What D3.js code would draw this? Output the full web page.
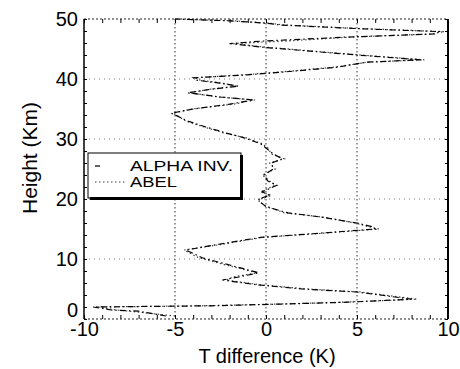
<!DOCTYPE html>
<html>
<head>
<meta charset="utf-8">
<script src="https://cdn.jsdelivr.net/npm/d3@7"></script>
<style>
  body { margin: 0; background: #fff; }
  svg { display: block; }
  text { font-family: "Liberation Sans", Arial, sans-serif; fill: #000; }
</style>
</head>
<body>
<div id="chart"></div>
<script>
// heights (km) shared by both profiles
const heightKm = [
  0.5, 1.3, 1.5, 2.0, 2.2, 2.5, 2.8, 3.3, 4.5, 5.0,
  5.7, 6.5, 7.0, 7.7, 9.0, 10.2, 11.5, 12.5, 13.6, 14.2,
  15.0, 15.4, 16.0, 17.0, 17.7, 18.7, 19.5, 20.0, 20.6, 21.2,
  22.3, 23.0, 24.0, 25.0, 26.0, 26.7, 27.5, 28.5, 29.2, 30.2,
  31.0, 32.0, 33.0, 34.3, 35.0, 35.8, 36.5, 37.0, 37.7, 38.3,
  38.8, 39.3, 39.8, 40.2, 40.7, 41.3, 42.0, 42.8, 43.2, 44.0,
  45.3, 45.9, 46.3, 47.0, 47.5, 47.9, 48.4, 49.0, 49.3, 49.7,
  50.0
];
const alphaInv = [
  -5.5, -7.0, -8.5, -9.5, -3.0, 1.0, 4.5, 8.0, 5.0, 2.0,
  -0.5, -2.4, -1.5, -0.4, -2.0, -3.5, -4.4, -2.5, -0.3, 2.5,
  6.0, 5.8, 5.0, 3.0, 1.2, 0.0, -0.3, -0.4, 0.2, -0.2,
  0.6, 0.1, -0.1, 0.4, 0.3, 0.9, 0.4, 0.0, -0.3, -1.2,
  -2.2, -3.3, -4.3, -5.2, -4.0, -2.0, -0.7, -2.5, -4.3, -3.0,
  -1.5, -2.5, -3.8, -4.0, -1.0, 1.5, 4.0, 5.5, 8.5, 5.0,
  -0.2, -2.0, -0.3, 4.5, 9.3, 9.5, 5.0, 0.8, 0.0, -2.0,
  -5.0
];
const abel = [
  -5.0, -7.5, -8.2, -9.3, -3.5, 0.8, 4.2, 8.3, 5.2, 2.3,
  -0.3, -2.2, -1.8, -0.5, -2.2, -3.7, -4.5, -2.3, -0.2, 2.7,
  6.2, 5.6, 4.9, 3.1, 1.0, 0.1, -0.4, -0.3, 0.3, -0.3,
  0.5, 0.2, -0.2, 0.5, 0.2, 1.0, 0.3, 0.1, -0.2, -1.1,
  -2.3, -3.4, -4.4, -5.1, -4.1, -1.8, -0.6, -2.6, -4.2, -3.1,
  -1.6, -2.4, -3.6, -3.9, -1.2, 1.3, 3.8, 5.6, 8.7, 5.2,
  0.0, -1.8, 0.9, 4.8, 9.0, 9.8, 5.2, 1.0, 0.2, -1.8,
  -5.0
];
const xTicks = [-10, -5, 0, 5, 10];
const yTicks = [0, 10, 20, 30, 40, 50];
const xGrid = [-5, 0, 5];
const yGrid = [10, 20, 30, 40];
const legendNames = ["ALPHA INV.", "ABEL"];

const width = 460, height = 369;
const plotLeft = 84, plotRight = 448, plotTop = 19, plotBottom = 319;

const svg = d3.select("#chart").append("svg")
  .attr("width", width)
  .attr("height", height);

const x = d3.scaleLinear().domain([-10, 10]).range([plotLeft, plotRight]);
const y = d3.scaleLinear().domain([0, 50]).range([plotBottom, plotTop]);

// grid
svg.append("g").selectAll("line")
  .data(xGrid).enter().append("line")
  .attr("x1", d => x(d)).attr("x2", d => x(d))
  .attr("y1", plotTop).attr("y2", plotBottom)
  .attr("stroke", "#333").attr("stroke-width", 1)
  .attr("stroke-dasharray", "1.5,2.5");

svg.append("g").selectAll("line")
  .data(yGrid).enter().append("line")
  .attr("x1", plotLeft).attr("x2", plotRight)
  .attr("y1", d => y(d)).attr("y2", d => y(d))
  .attr("stroke", "#777").attr("stroke-width", 1)
  .attr("stroke-dasharray", "1,4");

// minor ticks (inward)
const xMinor = d3.range(-10, 11, 1);
const yMinor = d3.range(0, 51, 2);
svg.append("g")
  .attr("transform", `translate(0,${plotBottom})`)
  .call(d3.axisBottom(x).tickValues(xMinor).tickSize(-4).tickFormat(""))
  .call(g => g.select(".domain").remove());
svg.append("g")
  .attr("transform", `translate(0,${plotTop})`)
  .call(d3.axisTop(x).tickValues(xMinor).tickSize(-4).tickFormat(""))
  .call(g => g.select(".domain").remove());
svg.append("g")
  .attr("transform", `translate(${plotLeft},0)`)
  .call(d3.axisLeft(y).tickValues(yMinor).tickSize(-3).tickFormat(""))
  .call(g => g.select(".domain").remove());
svg.append("g")
  .attr("transform", `translate(${plotRight},0)`)
  .call(d3.axisRight(y).tickValues(yMinor).tickSize(-3).tickFormat(""))
  .call(g => g.select(".domain").remove());

// frame
svg.append("line").attr("x1", plotLeft).attr("x2", plotRight).attr("y1", plotTop).attr("y2", plotTop)
  .attr("stroke", "#222").attr("stroke-dasharray", "2,2");
svg.append("line").attr("x1", plotLeft).attr("x2", plotRight).attr("y1", plotBottom).attr("y2", plotBottom)
  .attr("stroke", "#222").attr("stroke-dasharray", "2,2");
svg.append("line").attr("x1", plotLeft).attr("x2", plotLeft).attr("y1", plotTop).attr("y2", plotBottom)
  .attr("stroke", "#000").attr("stroke-width", 1.5);
svg.append("line").attr("x1", plotRight).attr("x2", plotRight).attr("y1", plotTop).attr("y2", plotBottom)
  .attr("stroke", "#000").attr("stroke-width", 2);

// tick labels (plain hyphen for negatives, as in the figure)
svg.append("g")
  .attr("transform", `translate(0,${plotBottom})`)
  .call(d3.axisBottom(x).tickValues(xTicks).tickSize(0).tickPadding(3).tickFormat(d => String(d)))
  .call(g => g.select(".domain").remove())
  .selectAll("text")
  .style("font-size", "20px")
  .style("font-family", "'Liberation Sans', Arial, sans-serif")
  .attr("fill", "#000");

svg.append("g")
  .attr("transform", `translate(${plotLeft},0)`)
  .call(d3.axisLeft(y).tickValues(yTicks).tickSize(0).tickPadding(6).tickFormat(d => String(d)))
  .call(g => g.select(".domain").remove())
  .selectAll("text")
  .style("font-size", "20px")
  .style("font-family", "'Liberation Sans', Arial, sans-serif")
  .attr("fill", "#000")
  .attr("dy", d => d === 0 ? "-0.15em" : "0.32em");

// axis titles
svg.append("text")
  .attr("x", 267)
  .attr("y", 363)
  .style("text-anchor", "middle")
  .style("font-size", "20px")
  .text("T difference (K)");

svg.append("text")
  .attr("transform", "rotate(-90)")
  .attr("x", -158)
  .attr("y", 37)
  .style("text-anchor", "middle")
  .style("font-size", "21px")
  .text("Height (Km)");

// profiles
const line = d3.line()
  .x(d => x(d[0]))
  .y(d => y(d[1]));

svg.append("path")
  .datum(abel.map((v, i) => [v, heightKm[i]]))
  .attr("fill", "none")
  .attr("stroke", "#444")
  .attr("stroke-width", 1.2)
  .attr("stroke-dasharray", "1.5,2.5")
  .attr("d", line);

svg.append("path")
  .datum(alphaInv.map((v, i) => [v, heightKm[i]]))
  .attr("fill", "none")
  .attr("stroke", "#000")
  .attr("stroke-width", 1.2)
  .attr("stroke-dasharray", "6,3,1.5,3")
  .attr("d", line);

// legend
const lx = 88, ly = 153, lw = 153, lh = 45;
svg.append("rect")
  .attr("x", lx).attr("y", ly).attr("width", lw).attr("height", lh)
  .attr("fill", "#fff").attr("stroke", "#000").attr("stroke-width", 1);
svg.append("path")
  .attr("d", `M${lx + 2},${ly + lh + 0.5} H${lx + lw + 0.5} V${ly + 2}`)
  .attr("fill", "none").attr("stroke", "#000").attr("stroke-width", 3);

svg.append("line")
  .attr("x1", 95).attr("x2", 127).attr("y1", 166).attr("y2", 166)
  .attr("stroke", "#000").attr("stroke-width", 1.2)
  .attr("stroke-dasharray", "5,27");
svg.append("line")
  .attr("x1", 95).attr("x2", 127).attr("y1", 182).attr("y2", 182)
  .attr("stroke", "#444").attr("stroke-width", 1.2)
  .attr("stroke-dasharray", "1.5,2.5");

const legendWidths = [103, 47];
svg.append("g").selectAll("text")
  .data(legendNames).enter().append("text")
  .attr("x", 130)
  .attr("y", (d, i) => 171 + i * 16)
  .style("font-size", "15px")
  .attr("textLength", (d, i) => legendWidths[i])
  .attr("lengthAdjust", "spacingAndGlyphs")
  .text(d => d);
</script>
</body>
</html>
